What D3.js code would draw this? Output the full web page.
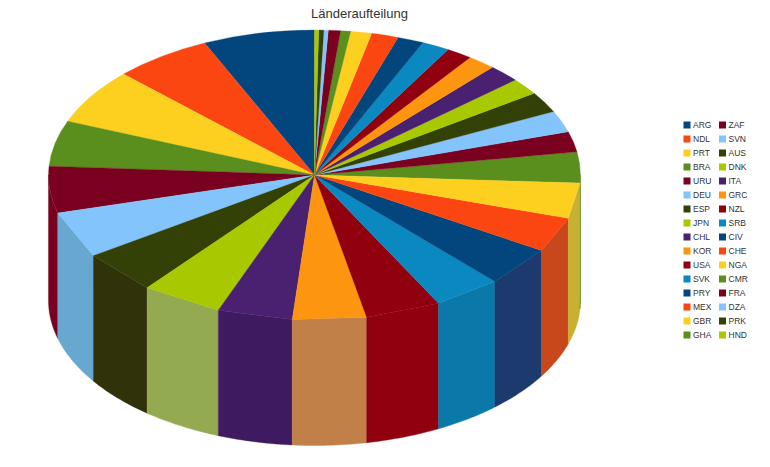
<!DOCTYPE html>
<html><head><meta charset="utf-8">
<script src="https://cdn.jsdelivr.net/npm/d3@7"></script>
<style>html,body{margin:0;padding:0;background:#fff}svg{display:block}</style>
</head><body><div id="c"></div>
<script>
const chartTitle = "Länderaufteilung";
const categories = ["ARG","NDL","PRT","BRA","URU","DEU","ESP","JPN","CHL","KOR","USA","SVK","PRY","MEX","GBR","GHA","ZAF","SVN","AUS","DNK","ITA","GRC","NZL","SRB","CIV","CHE","NGA","CMR","FRA","DZA","PRK","HND"];
const values = [24.4,21.5,22.3,18.3,18.7,18.6,17.2,17.8,16.4,16.1,16.5,14.9,15.9,14,14.2,12.4,8.2,8.6,8.3,6.7,7,6.2,5.7,6,5.8,5.9,4.6,2.2,2.6,1,1.1,.9];
const palette = ["#03467e","#fc4612","#fdd020","#5a8f1e","#7a0020","#84c4fc","#334006","#a8c800","#4a2070","#fd9510","#90000f","#0a88c0"];
const wallPalette = ["#1c3a6e","#c8481c","#c8b030","#4f8a20","#7a0020","#68a8d0","#30320a","#94aa50","#3e1a60","#c08048","#90000f","#0a78a8"];
const W=770,H=467,cx=314.5,cy=175,rx=266,ry=145,depth=125.5;
const svg=d3.select("#c").append("svg").attr("width",W).attr("height",H);
svg.append("rect").attr("width",W).attr("height",H).attr("fill","#fff");
const pie=d3.pie().sort(null).startAngle(0).endAngle(2*Math.PI);
const arcs=pie(values);
const color=d3.scaleOrdinal().domain(d3.range(12)).range(palette);
const wallColor=d3.scaleOrdinal().domain(d3.range(12)).range(wallPalette);
const px=a=>cx-rx*Math.sin(a), py=a=>cy-ry*Math.cos(a);
const line=d3.line();
const isFront=d=>d.startAngle>=Math.PI/2 && d.endAngle<=3*Math.PI/2;
const walls=svg.append("g");
arcs.forEach((d,i)=>{
  const a0=Math.max(d.startAngle,Math.PI/2), a1=Math.min(d.endAngle,3*Math.PI/2);
  if(a1<=a0) return;
  const n=Math.max(2,Math.ceil((a1-a0)*60));
  const ts=d3.range(n+1).map(k=>a0+(a1-a0)*k/n);
  const upper=isFront(d)?[a0,a1]:ts;
  const pts=upper.map(t=>[px(t),py(t)]).concat(ts.slice().reverse().map(t=>[px(t),py(t)+depth]));
  walls.append("path").attr("d",line(pts)+"Z").attr("fill",wallColor(i%12)).attr("stroke",wallColor(i%12)).attr("stroke-width",0.4);
});
const arc=d3.arc().innerRadius(0).outerRadius(1);
const face=svg.append("g").attr("transform",`translate(${cx},${cy}) scale(${-rx},${ry})`);
face.selectAll("path").data(arcs.map((d,i)=>({d,i})).filter(o=>!isFront(o.d))).join("path").attr("d",o=>arc(o.d))
  .attr("fill",o=>color(o.i%12)).attr("stroke",o=>color(o.i%12)).attr("stroke-width",0.3).attr("vector-effect","non-scaling-stroke");
const chords=svg.append("g");
chords.selectAll("path").data(arcs.map((d,i)=>({d,i})).filter(o=>isFront(o.d))).join("path")
  .attr("d",o=>line([[cx,cy],[px(o.d.startAngle),py(o.d.startAngle)],[px(o.d.endAngle),py(o.d.endAngle)]])+"Z")
  .attr("fill",o=>color(o.i%12)).attr("stroke",o=>color(o.i%12)).attr("stroke-width",0.3);
svg.append("text").attr("x",359.5).attr("y",18).attr("text-anchor","middle")
  .attr("font-family","Liberation Sans").attr("font-size",13).attr("fill","#333").text(chartTitle);
const rowsPerCol=16;
const leg=svg.append("g");
categories.forEach((c,i)=>{
  const col=Math.floor(i/rowsPerCol), row=i%rowsPerCol;
  const xs=683.5+col*35.5, y=125+row*14;
  leg.append("rect").attr("x",xs).attr("y",y-3.5).attr("width",7).attr("height",7).attr("fill",color(i%12));
  leg.append("text").attr("x",xs+9.5).attr("y",y+3).attr("font-family","Liberation Sans").attr("font-size",8.5).attr("fill","#333").text(c);
});
</script></body></html>
